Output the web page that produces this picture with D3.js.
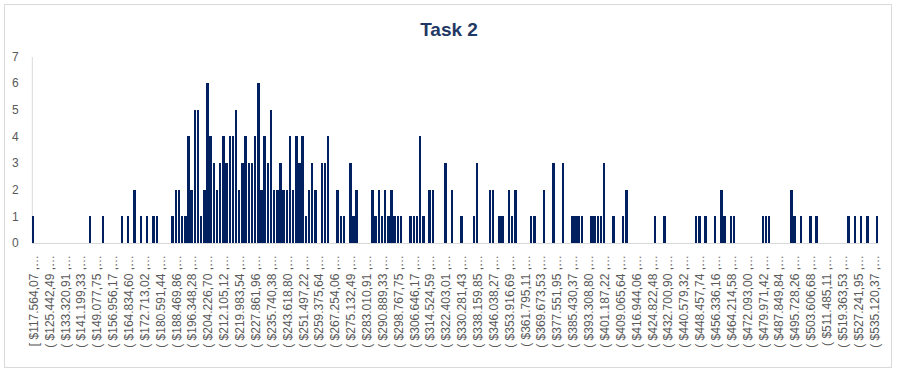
<!DOCTYPE html>
<html>
<head>
<meta charset="utf-8">
<script src="https://cdn.jsdelivr.net/npm/d3@7"></script>
<style>
body { margin: 0; background: #fff; }
text { font-family: "Liberation Sans", Arial, sans-serif; }
</style>
</head>
<body>
<svg id="chart" width="901" height="381"></svg>
<script>
// frequency per bin (267 bins, 5 bins per labelled category)
var counts = [
	1,0,0,0,0,0,0,0,0,0,
	0,0,0,0,0,0,0,0,1,0,
	0,0,1,0,0,0,0,0,1,0,
	1,0,2,0,1,0,1,0,1,1,
	0,0,0,0,1,2,2,1,1,4,
	2,5,5,1,2,6,4,3,2,3,
	4,3,4,4,5,2,3,4,3,3,
	4,6,2,4,3,5,2,2,3,2,
	2,4,2,4,3,4,1,2,3,2,
	0,3,3,4,0,0,2,1,1,0,
	3,1,2,0,0,0,0,2,1,2,
	1,2,1,2,1,1,1,0,0,1,
	1,1,4,1,0,2,2,0,0,0,
	3,0,2,0,0,1,0,0,0,1,
	3,0,0,0,2,2,0,1,1,0,
	2,1,2,0,0,0,0,1,1,0,
	0,2,0,0,3,0,0,3,0,0,
	1,1,1,1,0,0,1,1,1,1,
	3,0,0,1,0,0,1,2,0,0,
	0,0,0,0,0,0,1,0,0,1,
	0,0,0,0,0,0,0,0,0,1,
	1,0,1,0,0,1,0,2,1,0,
	1,1,0,0,0,0,0,0,0,0,
	1,1,1,0,0,0,0,0,0,2,
	1,0,1,0,0,1,0,1,0,0,
	0,0,0,0,0,0,0,1,0,1,
	0,1,0,1,0,0,1
];

var tickLabels = [
	"[ $117.564,07 ,…", "( $125.442,49 ,…", "( $133.320,91 ,…", "( $141.199,33 ,…",
	"( $149.077,75 ,…", "( $156.956,17 ,…", "( $164.834,60 ,…", "( $172.713,02 ,…",
	"( $180.591,44 ,…", "( $188.469,86 ,…", "( $196.348,28 ,…", "( $204.226,70 ,…",
	"( $212.105,12 ,…", "( $219.983,54 ,…", "( $227.861,96 ,…", "( $235.740,38 ,…",
	"( $243.618,80 ,…", "( $251.497,22 ,…", "( $259.375,64 ,…", "( $267.254,06 ,…",
	"( $275.132,49 ,…", "( $283.010,91 ,…", "( $290.889,33 ,…", "( $298.767,75 ,…",
	"( $306.646,17 ,…", "( $314.524,59 ,…", "( $322.403,01 ,…", "( $330.281,43 ,…",
	"( $338.159,85 ,…", "( $346.038,27 ,…", "( $353.916,69 ,…", "( $361.795,11 ,…",
	"( $369.673,53 ,…", "( $377.551,95 ,…", "( $385.430,37 ,…", "( $393.308,80 ,…",
	"( $401.187,22 ,…", "( $409.065,64 ,…", "( $416.944,06 ,…", "( $424.822,48 ,…",
	"( $432.700,90 ,…", "( $440.579,32 ,…", "( $448.457,74 ,…", "( $456.336,16 ,…",
	"( $464.214,58 ,…", "( $472.093,00 ,…", "( $479.971,42 ,…", "( $487.849,84 ,…",
	"( $495.728,26 ,…", "( $503.606,68 ,…", "( $511.485,11 ,…", "( $519.363,53 ,…",
	"( $527.241,95 ,…", "( $535.120,37 ,…"
];

var yTicks = [0, 1, 2, 3, 4, 5, 6, 7];
var BINS_PER_LABEL = 5;

var BAR_COLOR = "#002060";
var AXIS_COLOR = "#d9d9d9";
var TEXT_COLOR = "#595959";

var svg = d3.select("#chart");

// chart frame
svg.append("rect")
	.attr("x", 4.5).attr("y", 4.5)
	.attr("width", 887).attr("height", 363)
	.attr("fill", "#fff")
	.attr("stroke", AXIS_COLOR);

svg.append("text")
	.attr("x", 449).attr("y", 36)
	.attr("text-anchor", "middle")
	.attr("font-size", 19)
	.attr("font-weight", "bold")
	.attr("fill", "#1f3864")
	.text("Task 2");

var x = d3.scaleBand()
	.domain(d3.range(counts.length))
	.range([31.8, 878.2])
	.paddingInner(0.22)
	.paddingOuter(0);

var y = d3.scaleLinear()
	.domain([0, 7])
	.range([243, 56.5]);

// y axis
var yAxis = svg.append("g")
	.attr("transform", "translate(31.8,0)")
	.call(d3.axisLeft(y).tickValues(yTicks).tickFormat(d3.format("d")).tickSize(0).tickPadding(13));
yAxis.select(".domain").attr("stroke", AXIS_COLOR);
yAxis.selectAll("text")
	.attr("font-size", 12)
	.attr("fill", TEXT_COLOR)
	.style("font-family", "'Liberation Sans', Arial, sans-serif");

// bars
svg.append("g")
	.selectAll("rect")
	.data(counts)
	.join("rect")
	.attr("x", function(d, i) { return x(i); })
	.attr("y", function(d) { return y(d); })
	.attr("width", x.bandwidth())
	.attr("height", function(d) { return y(0) - y(d); })
	.attr("fill", BAR_COLOR)
	.attr("shape-rendering", "crispEdges");

// x axis
var xAxis = svg.append("g")
	.attr("transform", "translate(0,243)")
	.call(d3.axisBottom(x)
		.tickValues(d3.range(0, counts.length, BINS_PER_LABEL))
		.tickFormat(function(i) { return tickLabels[i / BINS_PER_LABEL]; })
		.tickSize(0));
xAxis.select(".domain").attr("stroke", AXIS_COLOR);
xAxis.selectAll("text")
	.attr("transform", "rotate(-90)")
	.attr("text-anchor", "end")
	.attr("x", -12)
	.attr("y", 0)
	.attr("dx", 0)
	.attr("dy", "0.4em")
	.attr("font-size", 12)
	.attr("fill", TEXT_COLOR)
	.style("font-family", "'Liberation Sans', Arial, sans-serif");
</script>
</body>
</html>
